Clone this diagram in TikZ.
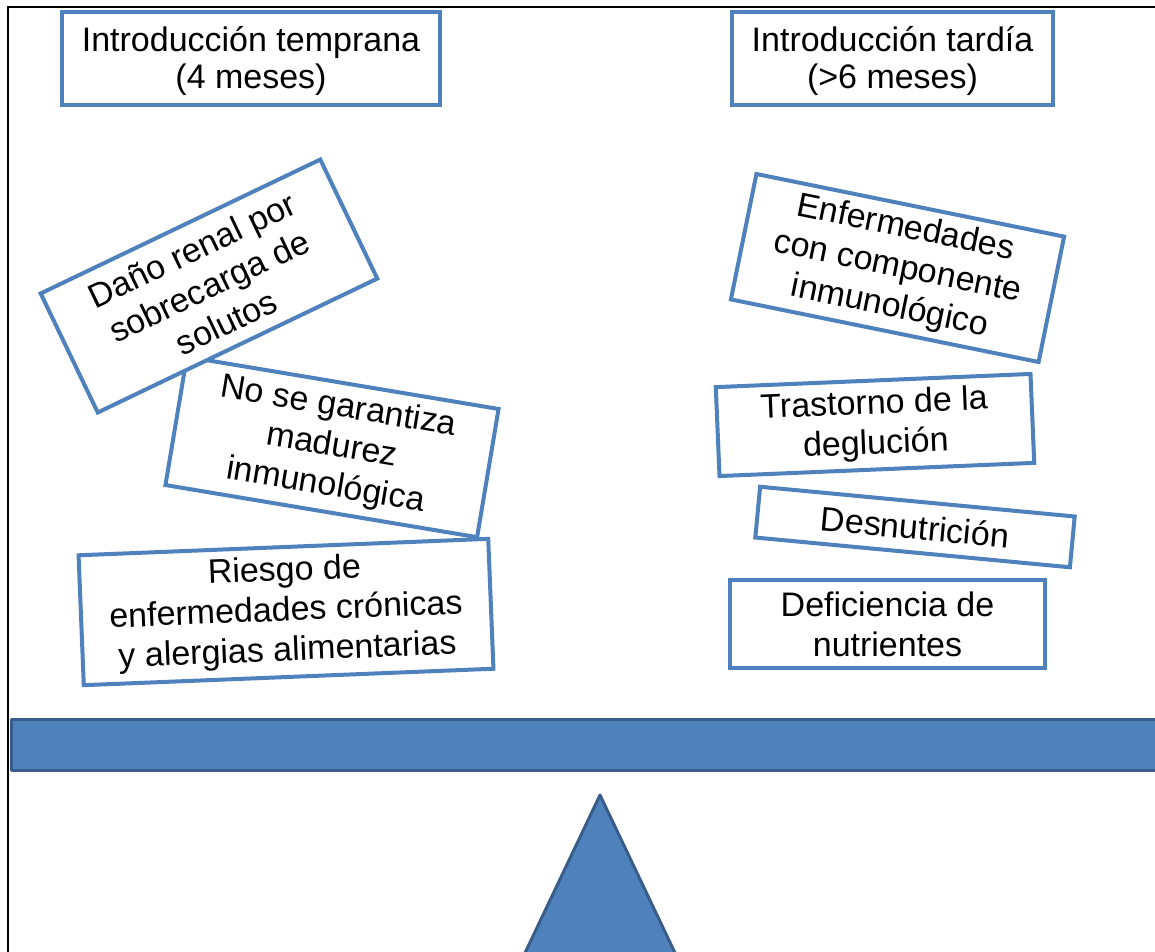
\documentclass[tikz,border=0pt]{standalone}
\usepackage{fontspec}
\setmainfont{Liberation Sans}
\usetikzlibrary{positioning}
\definecolor{cajaazul}{HTML}{4F81BD}
\definecolor{bordeazul}{HTML}{385D8A}
\tikzset{
    caja/.style={draw=cajaazul, line width=4pt, fill=white, inner sep=0pt,
        align=center, font=\fontsize{34}{40}\selectfont},
    titulo/.style={caja, minimum height=93, font=\fontsize{34}{37}\selectfont},
    balanza/.style={fill=cajaazul, draw=bordeazul, line width=3pt, line join=round}
}
\begin{document}
\begin{tikzpicture}[x=1pt, y=-1pt]
\useasboundingbox (0,0) rectangle (1155,951);
\clip (0,0) rectangle (1155,951);

\draw[line width=2pt] (8,960) -- (8,7) -- (1160,7);

\node[titulo, minimum width=378] (temprana) at (251,58.5)
    {\rule{0pt}{30pt}Introducción temprana\\(4 meses)};
\node[titulo, minimum width=321, right=288pt of temprana] (tardia)
    {\rule{0pt}{30pt}Introducción tardía\\(>6 meses)};

\node[caja, minimum width=316, minimum height=130, rotate=-9.5] (madurez) at (332,447)
    {No se garantiza\\madurez\\inmunológica};
\node[caja, minimum width=310, minimum height=132, rotate=25.6] (dano) at (209,286)
    {Daño renal por\\sobrecarga de\\solutos};
\node[caja, minimum width=410, minimum height=130, rotate=2.3] (riesgo) at (286,612)
    {Riesgo de\\enfermedades crónicas\\y alergias alimentarias};

\node[caja, minimum width=314, minimum height=128, rotate=-11.5] (enfermedades) at (897.5,268)
    {Enfermedades\\con componente\\inmunológico};
\node[caja, minimum width=315, minimum height=89, rotate=2.4] (deglucion) at (875,425)
    {Trastorno de la\\deglución};
\node[caja, minimum width=316, minimum height=51, rotate=-5.4] (desnutricion) at (915,527)
    {Desnutrición};
\node[caja, minimum width=315, minimum height=88] (deficiencia) at (887.5,624)
    {Deficiencia de\\nutrientes};

\draw[balanza] (11,719) rectangle (1170,770);
\draw[balanza] (600,795) -- (676,955) -- (524,955) -- cycle;
\end{tikzpicture}
\end{document}
